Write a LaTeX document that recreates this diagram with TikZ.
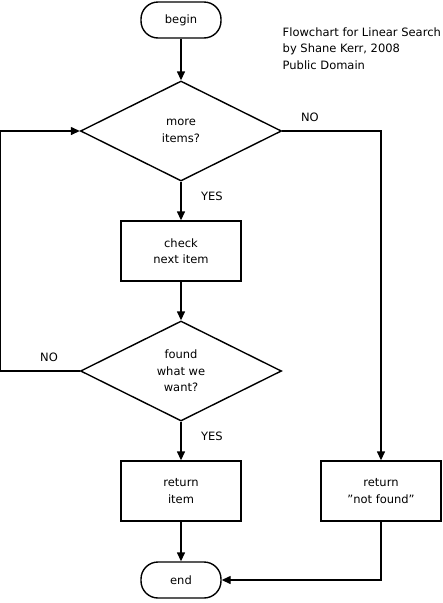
\documentclass[tikz,border=0pt]{standalone}
\usepackage{fontspec}
\setmainfont{DejaVu Sans}[Ligatures=ResetAll]
\usetikzlibrary{shapes.geometric, arrows.meta, positioning}

\begin{document}
\begin{tikzpicture}[node distance=120pt, >={Triangle[length=9pt,width=8pt]}, line width=1.4pt, font=\fontsize{11.5}{16.5}\selectfont]
    \tikzstyle{terminal} = [rectangle, draw, rounded corners=17pt, minimum width=80pt, minimum height=36pt, align=center]
    \tikzstyle{decision} = [diamond, draw, aspect=2, inner sep=0pt, minimum width=201pt, minimum height=100pt, align=center]
    \tikzstyle{process} = [rectangle, draw, minimum width=120pt, minimum height=60pt, align=center]
    \tikzstyle{answer} = [font=\fontsize{11.5}{13}\selectfont]
    \tikzstyle{line} = [draw, ->]

    \useasboundingbox (0pt,0pt) rectangle (443pt,-603pt);

    \node [terminal] (begin) at (181pt,-20pt) {begin};
    \node [decision, below of=begin, node distance=111pt] (more) {more\\items?};
    \node [process, below of=more] (check) {check\\next item};
    \node [decision, below of=check] (found) {found\\what we\\want?};
    \node [process, below of=found] (item) {return\\item};
    \node [terminal, below of=item, node distance=89pt] (end) {end};
    \node [process, right of=item, node distance=200pt] (notfound) {return\\"not found"};
    \coordinate [left=79pt of found.west] (loop);

    \node [anchor=north west, align=left, inner sep=0pt] (title) at (282pt,-27pt) {Flowchart for Linear Search\\by Shane Kerr, 2008\\Public Domain};

    \path [line] (begin) -- (more);
    \path [line] (more) -- node [answer, pos=0.375, right=16pt] (yesmore) {YES} (check);
    \path [line] (check) -- (found);
    \path [line] (found) -- node [answer, pos=0.375, right=16pt] (yesfound) {YES} (item);
    \path [line] (item) -- (end);
    \path [line] (found.west) -- node [answer, pos=0.39, above=5pt] (nofound) {NO} (loop) |- (more.west);
    \path [line] (more.east) -| node [answer, pos=0.14, above=5pt] (nomore) {NO} (notfound.north);
    \path [line] (notfound.south) |- (end.east);
\end{tikzpicture}
\end{document}
